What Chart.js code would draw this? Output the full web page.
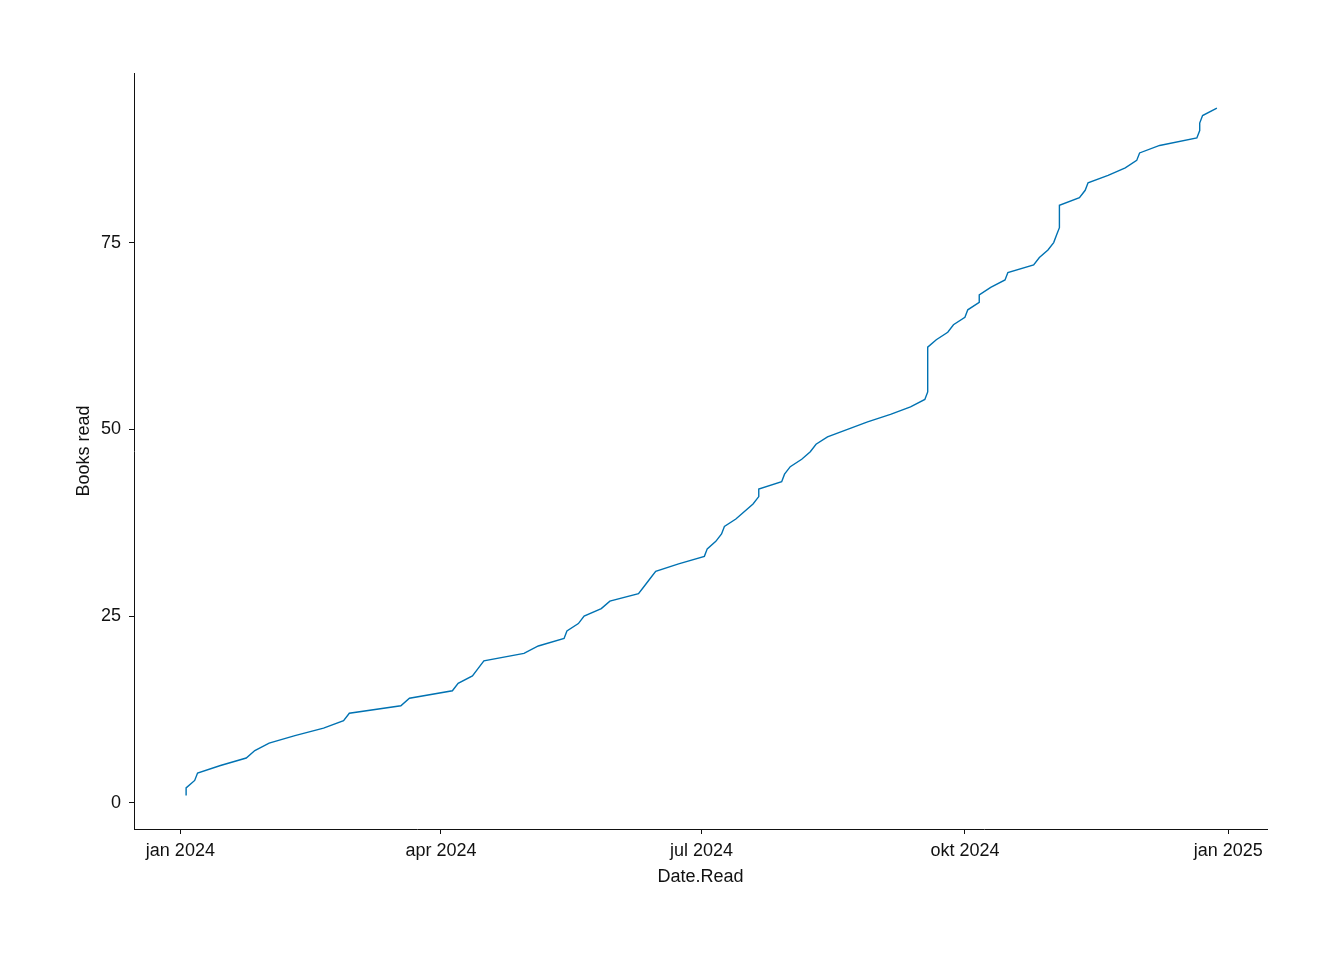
<!DOCTYPE html>
<html>
<head>
<meta charset="utf-8">
<script src="https://cdn.jsdelivr.net/npm/chart.js@4/dist/chart.umd.min.js"></script>
<style>
  html, body { margin: 0; padding: 0; background: #fff; }
  #wrap { width: 1344px; height: 960px; }
</style>
</head>
<body>
<div id="wrap"><canvas id="chart"></canvas></div>
<script>
// dates each book was finished
const dateRead = [
  '2024-01-03', '2024-01-03', '2024-01-06', '2024-01-07', '2024-01-15', '2024-01-24', '2024-01-27', '2024-02-01',
  '2024-02-10', '2024-02-20', '2024-02-27', '2024-02-29', '2024-03-18', '2024-03-21', '2024-04-05', '2024-04-07',
  '2024-04-12', '2024-04-14', '2024-04-16', '2024-04-30', '2024-05-05', '2024-05-14', '2024-05-15', '2024-05-19',
  '2024-05-21', '2024-05-27', '2024-05-30', '2024-06-09', '2024-06-11', '2024-06-13', '2024-06-15', '2024-06-23',
  '2024-07-02', '2024-07-03', '2024-07-06', '2024-07-08', '2024-07-09', '2024-07-13', '2024-07-16', '2024-07-19',
  '2024-07-21', '2024-07-21', '2024-07-29', '2024-07-30', '2024-08-01', '2024-08-05', '2024-08-08', '2024-08-10',
  '2024-08-14', '2024-08-21', '2024-08-28', '2024-09-05', '2024-09-12', '2024-09-17', '2024-09-18', '2024-09-18',
  '2024-09-18', '2024-09-18', '2024-09-18', '2024-09-18', '2024-09-18', '2024-09-21', '2024-09-25', '2024-09-27',
  '2024-10-01', '2024-10-02', '2024-10-06', '2024-10-06', '2024-10-10', '2024-10-15', '2024-10-16', '2024-10-25',
  '2024-10-27', '2024-10-30', '2024-11-01', '2024-11-02', '2024-11-03', '2024-11-03', '2024-11-03', '2024-11-03',
  '2024-11-10', '2024-11-12', '2024-11-13', '2024-11-20', '2024-11-26', '2024-11-30', '2024-12-01', '2024-12-08',
  '2024-12-21', '2024-12-22', '2024-12-22', '2024-12-23', '2024-12-28',
]

const booksRead = [
  1, 2, 3, 4, 5, 6, 7, 8, 9, 10, 11, 12, 13, 14, 15, 16,
  17, 18, 19, 20, 21, 22, 23, 24, 25, 26, 27, 28, 29, 30, 31, 32,
  33, 34, 35, 36, 37, 38, 39, 40, 41, 42, 43, 44, 45, 46, 47, 48,
  49, 50, 51, 52, 53, 54, 55, 56, 57, 58, 59, 60, 61, 62, 63, 64,
  65, 66, 67, 68, 69, 70, 71, 72, 73, 74, 75, 76, 77, 78, 79, 80,
  81, 82, 83, 84, 85, 86, 87, 88, 89, 90, 91, 92, 93,
]

const xTickDates = ['2024-01-01', '2024-04-01', '2024-07-01', '2024-10-01', '2025-01-01']
const xTickLabels = ['jan 2024', 'apr 2024', 'jul 2024', 'okt 2024', 'jan 2025']
const yTicks = [0, 25, 50, 75]

const DAY = 86400000
const origin = Date.UTC(2024, 0, 1)
const toDay = (s) => {
  const [y, m, d] = s.split('-').map(Number)
  return (Date.UTC(y, m - 1, d) - origin) / DAY
}

const points = dateRead.map((d, i) => ({ x: toDay(d), y: booksRead[i] }))
const xTickValues = xTickDates.map(toDay)

const FONT = { family: '"Liberation Sans", Arial, sans-serif', size: 18 }
const INK = '#111111'

const whiteBg = {
  id: 'whiteBg',
  beforeDraw(chart) {
    const { ctx, width, height } = chart
    ctx.save()
    ctx.fillStyle = '#ffffff'
    ctx.fillRect(0, 0, width, height)
    ctx.restore()
  },
}

new Chart(document.getElementById('chart'), {
  type: 'line',
  data: {
    datasets: [
      {
        data: points,
        borderColor: '#0072B2',
        borderWidth: 1.4,
        pointRadius: 0,
        tension: 0,
        fill: false,
      },
    ],
  },
  options: {
    responsive: true,
    maintainAspectRatio: false,
    animation: false,
    layout: { padding: { left: 73, right: 77, top: 73, bottom: 72 } },
    plugins: { legend: { display: false }, tooltip: { enabled: false } },
    scales: {
      x: {
        type: 'linear',
        min: -16.2,
        max: 379.5,
        afterBuildTicks: (scale) => {
          scale.ticks = xTickValues.map((v) => ({ value: v }))
        },
        afterFit: (scale) => {
          scale.height = 59
        },
        ticks: {
          autoSkip: false,
          maxRotation: 0,
          padding: 6,
          color: INK,
          font: FONT,
          callback: (v) => xTickLabels[xTickValues.indexOf(v)],
        },
        grid: { drawOnChartArea: false, drawTicks: true, tickLength: 5, color: INK },
        border: { display: true, color: INK, width: 1 },
        title: { display: true, text: 'Date.Read', color: INK, font: FONT, padding: 0 },
      },
      y: {
        type: 'linear',
        min: -3.5,
        max: 97.7,
        afterBuildTicks: (scale) => {
          scale.ticks = yTicks.map((v) => ({ value: v }))
        },
        afterFit: (scale) => {
          scale.width = 61
        },
        ticks: { padding: 8, color: INK, font: FONT },
        grid: { drawOnChartArea: false, drawTicks: true, tickLength: 5, color: INK },
        border: { display: true, color: INK, width: 1 },
        title: { display: true, text: 'Books read', color: INK, font: FONT, padding: 0 },
      },
    },
  },
  plugins: [whiteBg],
})
</script>
</body>
</html>
